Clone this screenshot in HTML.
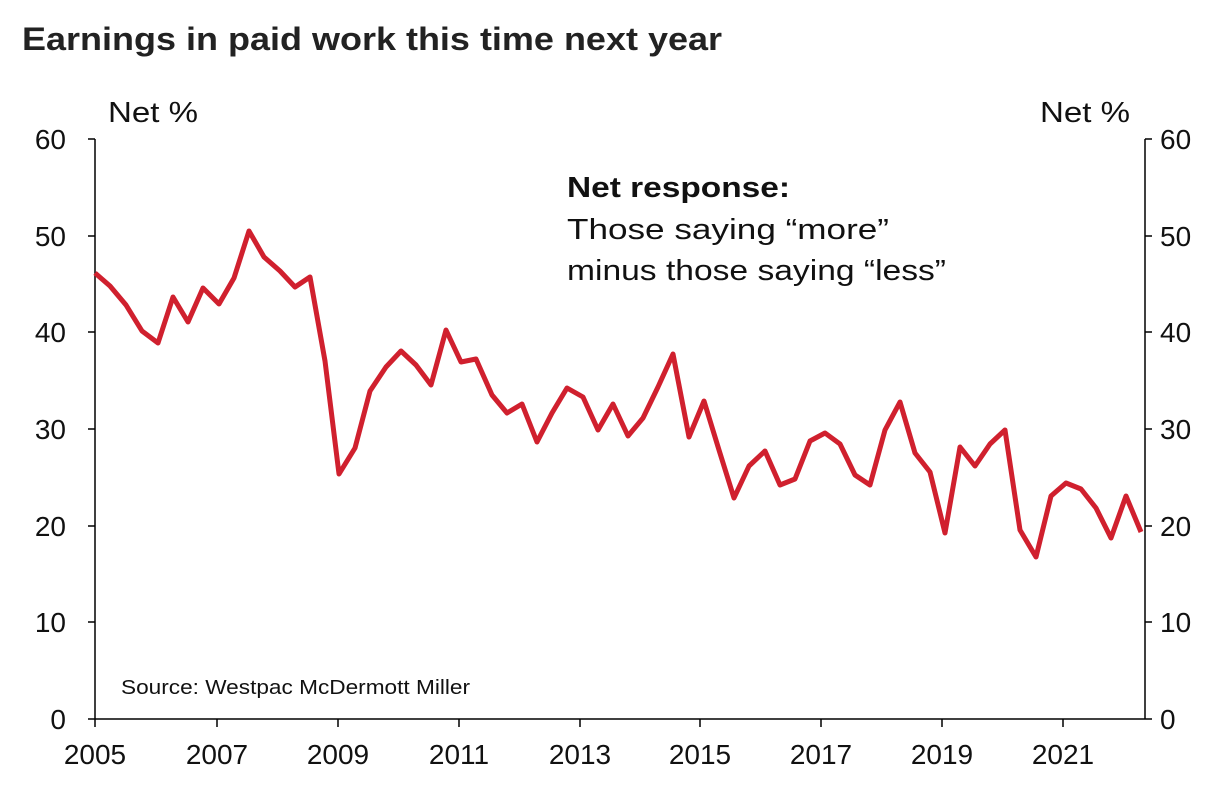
<!DOCTYPE html>
<html><head><meta charset="utf-8"><style>
html,body{margin:0;padding:0;background:#fff;width:1222px;height:798px;overflow:hidden;font-family:"Liberation Sans",Arial,sans-serif}
</style></head><body>
<svg width="1222" height="798" xmlns="http://www.w3.org/2000/svg" font-family="Liberation Sans, Arial, sans-serif">
<text x="22" y="50" font-size="32" font-weight="bold" fill="#222" textLength="700" lengthAdjust="spacingAndGlyphs">Earnings in paid work this time next year</text>
<text x="108" y="122" font-size="29" fill="#111" textLength="90" lengthAdjust="spacingAndGlyphs">Net %</text>
<text x="1040" y="122" font-size="29" fill="#111" textLength="90" lengthAdjust="spacingAndGlyphs">Net %</text>
<g stroke="#000" stroke-width="1.5">
<line x1="95" y1="139" x2="95" y2="719"/>
<line x1="1145" y1="139" x2="1145" y2="719"/>
<line x1="95" y1="719" x2="1145" y2="719"/>
</g>
<g stroke="#000" stroke-width="1.5">
<line x1="88" y1="139" x2="95" y2="139"/><line x1="88" y1="236" x2="95" y2="236"/><line x1="88" y1="332" x2="95" y2="332"/><line x1="88" y1="429" x2="95" y2="429"/><line x1="88" y1="526" x2="95" y2="526"/><line x1="88" y1="622" x2="95" y2="622"/><line x1="88" y1="719" x2="95" y2="719"/>
<line x1="1145" y1="139" x2="1152" y2="139"/><line x1="1145" y1="236" x2="1152" y2="236"/><line x1="1145" y1="332" x2="1152" y2="332"/><line x1="1145" y1="429" x2="1152" y2="429"/><line x1="1145" y1="526" x2="1152" y2="526"/><line x1="1145" y1="622" x2="1152" y2="622"/><line x1="1145" y1="719" x2="1152" y2="719"/>
<line x1="95" y1="719" x2="95" y2="727"/><line x1="217" y1="719" x2="217" y2="727"/><line x1="338" y1="719" x2="338" y2="727"/><line x1="459" y1="719" x2="459" y2="727"/><line x1="580" y1="719" x2="580" y2="727"/><line x1="700" y1="719" x2="700" y2="727"/><line x1="821" y1="719" x2="821" y2="727"/><line x1="942" y1="719" x2="942" y2="727"/><line x1="1063" y1="719" x2="1063" y2="727"/>
</g>
<g font-size="28" fill="#111" text-anchor="end">
<text x="66" y="149">60</text><text x="66" y="246">50</text><text x="66" y="342">40</text><text x="66" y="439">30</text><text x="66" y="536">20</text><text x="66" y="632">10</text><text x="66" y="729">0</text>
</g>
<g font-size="28" fill="#111" text-anchor="start">
<text x="1160" y="149">60</text><text x="1160" y="246">50</text><text x="1160" y="342">40</text><text x="1160" y="439">30</text><text x="1160" y="536">20</text><text x="1160" y="632">10</text><text x="1160" y="729">0</text>
</g>
<g font-size="28" fill="#111" text-anchor="middle">
<text x="95" y="764">2005</text><text x="217" y="764">2007</text><text x="338" y="764">2009</text><text x="459" y="764">2011</text><text x="580" y="764">2013</text><text x="700" y="764">2015</text><text x="821" y="764">2017</text><text x="942" y="764">2019</text><text x="1063" y="764">2021</text>
</g>
<text x="567" y="197" font-size="29" font-weight="bold" fill="#111" textLength="223" lengthAdjust="spacingAndGlyphs">Net response:</text>
<text x="567" y="239" font-size="29" fill="#111" textLength="322" lengthAdjust="spacingAndGlyphs">Those saying “more”</text>
<text x="567" y="280" font-size="29" fill="#111" textLength="379" lengthAdjust="spacingAndGlyphs">minus those saying “less”</text>
<text x="121" y="694" font-size="20" fill="#111" textLength="349" lengthAdjust="spacingAndGlyphs">Source: Westpac McDermott Miller</text>
<polyline fill="none" stroke="#d0202e" stroke-width="5" stroke-linejoin="round" points="95,273 110,286 126,305 142,331 158,343 173,297 188,322 203,288 219,304 234,278 249,231 264,257 280,271 295,287 310,277 325,361 339,474 355,448 370,391 386,367 401,351 416,365 431,385 446,330 461,362 476,359 492,395 507,413 522,404 537,442 552,413 567,388 583,397 598,430 613,404 628,436 643,418 658,387 673,354 689,437 704,401 719,450 734,498 749,466 765,451 780,485 795,479 810,441 825,433 840,444 855,475 870,485 885,430 900,402 915,453 930,472 945,533 960,447 975,466 990,444 1005,430 1020,530 1036,557 1051,496 1066,483 1081,489 1096,508 1111,538 1126,496 1141,532"/>
</svg>
</body></html>
